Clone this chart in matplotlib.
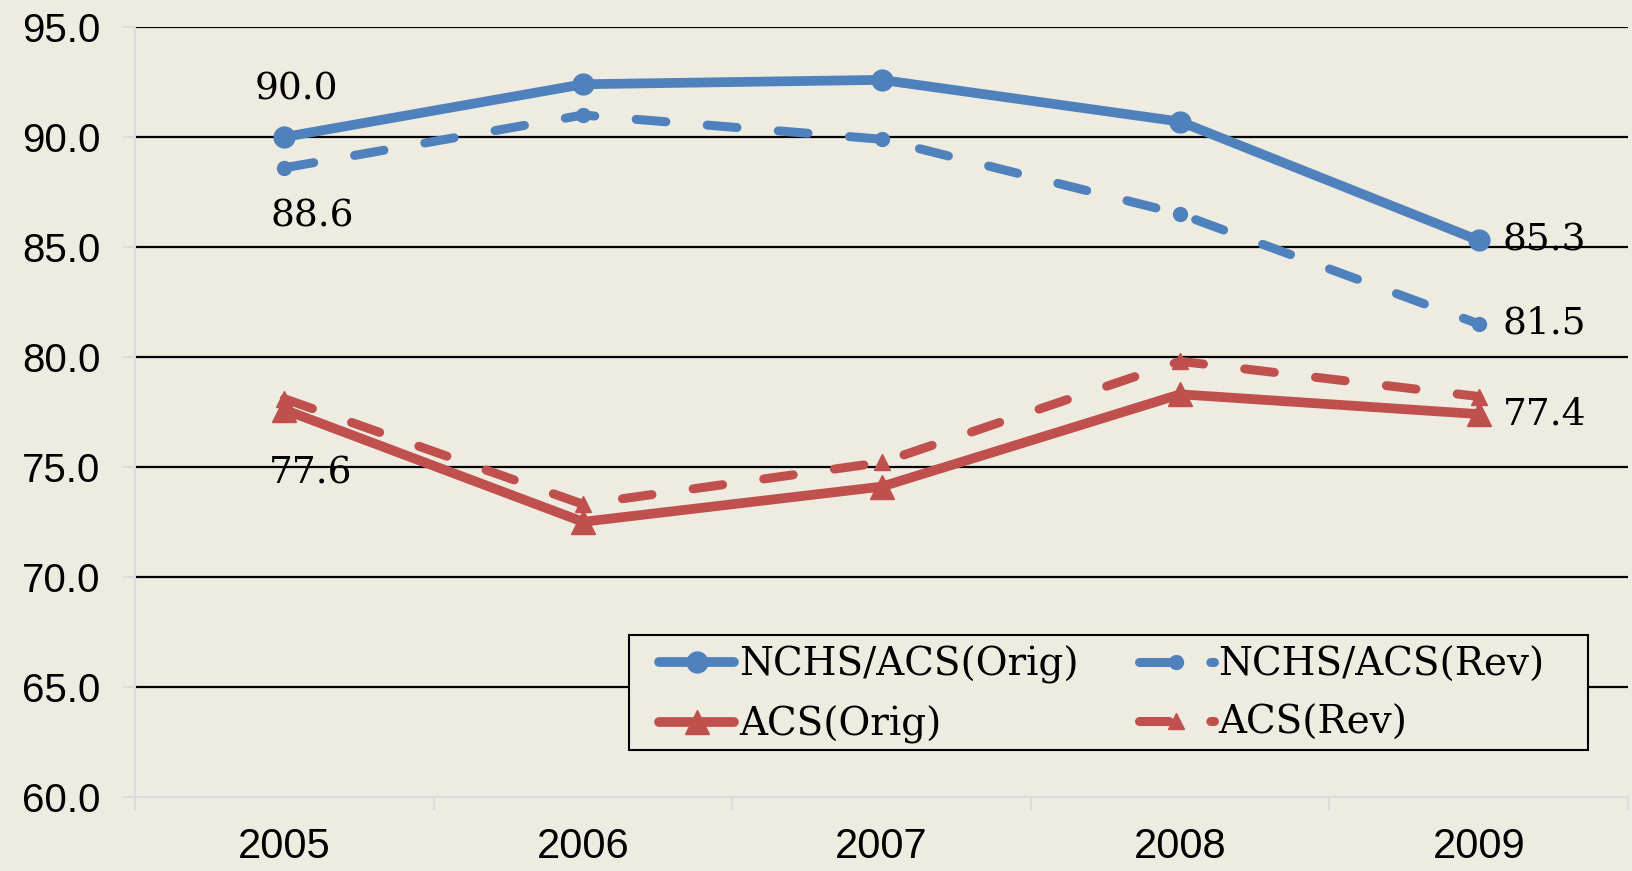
import matplotlib
matplotlib.use("Agg")
import matplotlib.pyplot as plt
from matplotlib.patches import Rectangle
from matplotlib.ticker import FixedLocator

years = ["2005", "2006", "2007", "2008", "2009"]
nchs_orig = [90.0, 92.4, 92.6, 90.7, 85.3]
nchs_rev = [88.6, 91.0, 89.9, 86.5, 81.5]
acs_orig = [77.6, 72.5, 74.1, 78.3, 77.4]
acs_rev = [78.1, 73.3, 75.2, 79.8, 78.2]
yticks = [60, 65, 70, 75, 80, 85, 90, 95]

BLUE = "#4F81BD"
RED = "#C0504D"
BG = "#EEECE1"
LIGHT = "#DCDCDC"
SERIF = ["DejaVu Serif"]
SANS = ["Liberation Sans", "DejaVu Sans"]

fig = plt.figure(figsize=(16.33, 8.71), dpi=100, facecolor=BG)
ax = fig.add_axes([0.0827, 0.0853, 0.9143, 0.8836], facecolor=BG)

x = list(range(len(years)))

l1, = ax.plot(x, nchs_orig, color=BLUE, lw=7, marker="o", ms=15,
              solid_capstyle="round", label="NCHS/ACS(Orig)", zorder=4)
l2, = ax.plot(x, nchs_rev, color=BLUE, lw=6.5, marker="o", ms=10,
              dashes=(3.3, 4.6), dash_capstyle="round", label="NCHS/ACS(Rev)", zorder=4)
l3, = ax.plot(x, acs_orig, color=RED, lw=7, marker="^", ms=17,
              solid_capstyle="round", label="ACS(Orig)", zorder=4)
l4, = ax.plot(x, acs_rev, color=RED, lw=6.5, marker="^", ms=11,
              dashes=(3.3, 4.6), dash_capstyle="round", label="ACS(Rev)", zorder=4)

# data labels on the end points
lab = dict(fontsize=27, family=SERIF, color="black", zorder=5)
ax.annotate(f"{nchs_orig[0]:.1f}", (0, nchs_orig[0]), xytext=(9, 34),
            textcoords="offset points", ha="center", va="center", **lab)
ax.annotate(f"{nchs_rev[0]:.1f}", (0, nchs_rev[0]), xytext=(20, -35),
            textcoords="offset points", ha="center", va="center", **lab)
ax.annotate(f"{acs_orig[0]:.1f}", (0, acs_orig[0]), xytext=(19, -46),
            textcoords="offset points", ha="center", va="center", **lab)
for s in [nchs_orig, nchs_rev, acs_orig]:
    ax.annotate(f"{s[4]:.1f}", (4, s[4]), xytext=(17, 0),
                textcoords="offset points", ha="left", va="center", **lab)

ax.set_xlim(-0.5, 4.5)
ax.set_ylim(60, 95)
ax.set_yticks(yticks)
ax.set_yticklabels([f"{v:.1f}" for v in yticks], family=SANS, fontsize=29)
ax.set_xticks(x)
ax.set_xticklabels(years, family=SANS, fontsize=30)
ax.xaxis.set_minor_locator(FixedLocator([i - 0.5 for i in range(6)]))

ax.tick_params(axis="y", which="major", length=9, width=1.5, color=LIGHT, pad=16)
ax.tick_params(axis="x", which="major", length=0, pad=22)
ax.tick_params(axis="x", which="minor", length=9, width=1.5, color=LIGHT)

ax.grid(axis="y", color="black", lw=1.6, zorder=1)
ax.set_axisbelow(True)
ax.yaxis.get_gridlines()[0].set_visible(False)

for side in ["top", "right"]:
    ax.spines[side].set_visible(False)
for side in ["left", "bottom"]:
    ax.spines[side].set_color(LIGHT)
    ax.spines[side].set_linewidth(1.5)

# legend box drawn separately so its padding can match the original
ax.add_patch(Rectangle((0.331, 0.0607), 0.642, 0.1494, transform=ax.transAxes,
                       facecolor=BG, edgecolor="black", lw=1.5, zorder=6))
leg = ax.legend([l1, l3, l2, l4], [l.get_label() for l in [l1, l3, l2, l4]],
                ncol=2, loc="upper left", bbox_to_anchor=(0.351, 0.196),
                prop={"family": SERIF, "size": 28}, frameon=False,
                handlelength=1.93, handletextpad=0.12, columnspacing=1.55,
                borderaxespad=0, labelspacing=0.55, borderpad=0)
leg.set_zorder(7)

fig.savefig("out.png", dpi=100, facecolor=BG)
